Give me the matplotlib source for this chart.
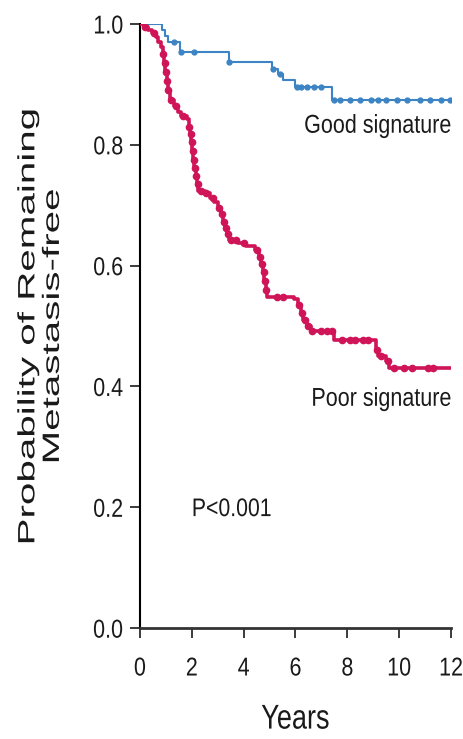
import numpy as np
import matplotlib
matplotlib.use('Agg')
import matplotlib.pyplot as plt
import matplotlib.patheffects as pe
from matplotlib.transforms import Affine2D

# Kaplan-Meier curves: time of each step (years) and survival after the step
good_times = [0.0, 0.85, 0.97, 1.1, 1.55, 3.42, 5.1, 5.33, 5.53, 5.98, 7.42]
good_surv = [1.0, 0.99, 0.98, 0.97, 0.954, 0.937, 0.926, 0.917, 0.908, 0.896, 0.874]
good_censor = [1.3, 1.6, 2.1, 3.45, 5.15, 5.4, 6.05, 6.2, 6.45, 6.7, 7.0, 7.5,
               7.7, 8.1, 8.5, 8.9, 9.2, 9.5, 9.9, 10.3, 10.8, 11.2, 11.6, 11.95]

poor_times = [0.0, 0.15, 0.3, 0.45, 0.6, 0.7, 0.8, 0.88, 0.93, 0.98, 1.03, 1.08,
              1.15, 1.3, 1.45, 1.6, 1.8, 1.88, 1.93, 1.98, 2.02, 2.06, 2.1, 2.15,
              2.2, 2.25, 2.5, 2.7, 2.85, 3.0, 3.12, 3.2, 3.28, 3.36, 3.45, 3.8,
              4.1, 4.45, 4.6, 4.68, 4.74, 4.8, 4.85, 4.9, 5.95, 6.1, 6.2, 6.3,
              6.45, 6.6, 7.5, 9.1, 9.2, 9.5, 9.62]
poor_surv = [1.0, 0.995, 0.99, 0.985, 0.978, 0.97, 0.962, 0.95, 0.935, 0.92, 0.905, 0.89,
             0.875, 0.865, 0.855, 0.848, 0.842, 0.83, 0.818, 0.805, 0.79, 0.775, 0.762, 0.748,
             0.735, 0.724, 0.72, 0.712, 0.705, 0.695, 0.685, 0.672, 0.662, 0.652, 0.643, 0.638,
             0.633, 0.626, 0.615, 0.603, 0.59, 0.575, 0.56, 0.548, 0.545, 0.535, 0.522, 0.51,
             0.5, 0.492, 0.477, 0.46, 0.45, 0.443, 0.43]
poor_censor = [0.2, 0.55, 0.9, 0.95, 1.0, 1.05, 1.1, 1.2, 1.4, 1.65, 1.9, 1.95,
               2.0, 2.04, 2.08, 2.12, 2.17, 2.22, 2.35, 2.55, 2.8, 3.05, 3.15,
               3.25, 3.32, 3.4, 3.5, 3.7, 4.0, 4.5, 4.62, 4.7, 4.77, 4.82, 4.88,
               5.3, 5.5, 6.15, 6.25, 6.35, 6.5, 6.65, 7.0, 7.2, 7.4, 7.8, 8.1,
               8.3, 8.6, 8.8, 9.15, 9.3, 9.55, 9.8, 10.2, 10.5, 11.1, 11.3]

x_end = 12
good_color = '#3d84c4'
poor_color = '#cf1458'


class StretchY(pe.AbstractPathEffect):
    """Stretch glyphs vertically about their own centre."""

    def __init__(self, sy):
        super().__init__()
        self.sy = sy

    def draw_path(self, renderer, gc, tpath, affine, rgbFace=None):
        box = tpath.get_extents(affine)
        cy = (box.y0 + box.y1) / 2
        affine = affine + Affine2D().translate(0, -cy).scale(1, self.sy).translate(0, cy)
        renderer.draw_path(gc, tpath, affine, rgbFace)


def censor_y(times, surv, cens):
    idx = np.searchsorted(times, cens, side='right') - 1
    return np.array(surv)[idx]


plt.rcParams['font.family'] = ['Liberation Sans', 'DejaVu Sans']

fig = plt.figure(figsize=(4.64, 7.39), dpi=100)
ax = fig.add_axes([0.3017, 0.150, 0.6703, 0.8175])

ax.step(good_times + [x_end], good_surv + [good_surv[-1]], where='post',
        color=good_color, lw=1.5, zorder=3)
ax.plot(good_censor, censor_y(good_times, good_surv, good_censor), 'o',
        color=good_color, ms=3.5, zorder=3)

ax.step(poor_times + [x_end], poor_surv + [poor_surv[-1]], where='post',
        color=poor_color, lw=2.6, zorder=4)
ax.plot(poor_censor, censor_y(poor_times, poor_surv, poor_censor), 'o',
        color=poor_color, ms=4.5, zorder=4)

ax.set_xlim(0, 12)
ax.set_ylim(0, 1.0)
ax.set_xticks(range(0, 13, 2))
ax.set_yticks([0.0, 0.2, 0.4, 0.6, 0.8, 1.0])
ax.set_yticklabels(['0.0', '0.2', '0.4', '0.6', '0.8', '1.0'])

for side in ['top', 'right']:
    ax.spines[side].set_visible(False)
ax.spines['left'].set_linewidth(1.5)
ax.spines['bottom'].set_linewidth(2.0)
ax.spines['bottom'].set_color('#333333')
ax.spines['left'].set_bounds(0, 1.0)

ax.tick_params(axis='both', direction='out', length=7, width=1.2,
               labelsize=15.5, colors='#1a1a1a')
ax.tick_params(axis='y', pad=5)
ax.tick_params(axis='x', pad=14.5)

narrow = StretchY(1.2)
for lbl in ax.get_xticklabels() + ax.get_yticklabels():
    lbl.set_path_effects([narrow])

ax.set_xlabel('Years', fontsize=19.5, labelpad=19.5, color='#1a1a1a',
              path_effects=[StretchY(1.27)])
ax.set_ylabel('Probability of Remaining\nMetastasis-free', fontsize=17,
              linespacing=1.15, labelpad=21, color='#1a1a1a',
              path_effects=[StretchY(1.71)])

ax.text(12, 0.831, 'Good signature', ha='right', va='center', fontsize=15.5,
        color='#1a1a1a', path_effects=[narrow])
ax.text(12, 0.379, 'Poor signature', ha='right', va='center', fontsize=15.5,
        color='#1a1a1a', path_effects=[narrow])
ax.text(2.0, 0.197, 'P<0.001', ha='left', va='center', fontsize=15.3,
        color='#1a1a1a', path_effects=[narrow])

fig.savefig('out.png', dpi=100)
